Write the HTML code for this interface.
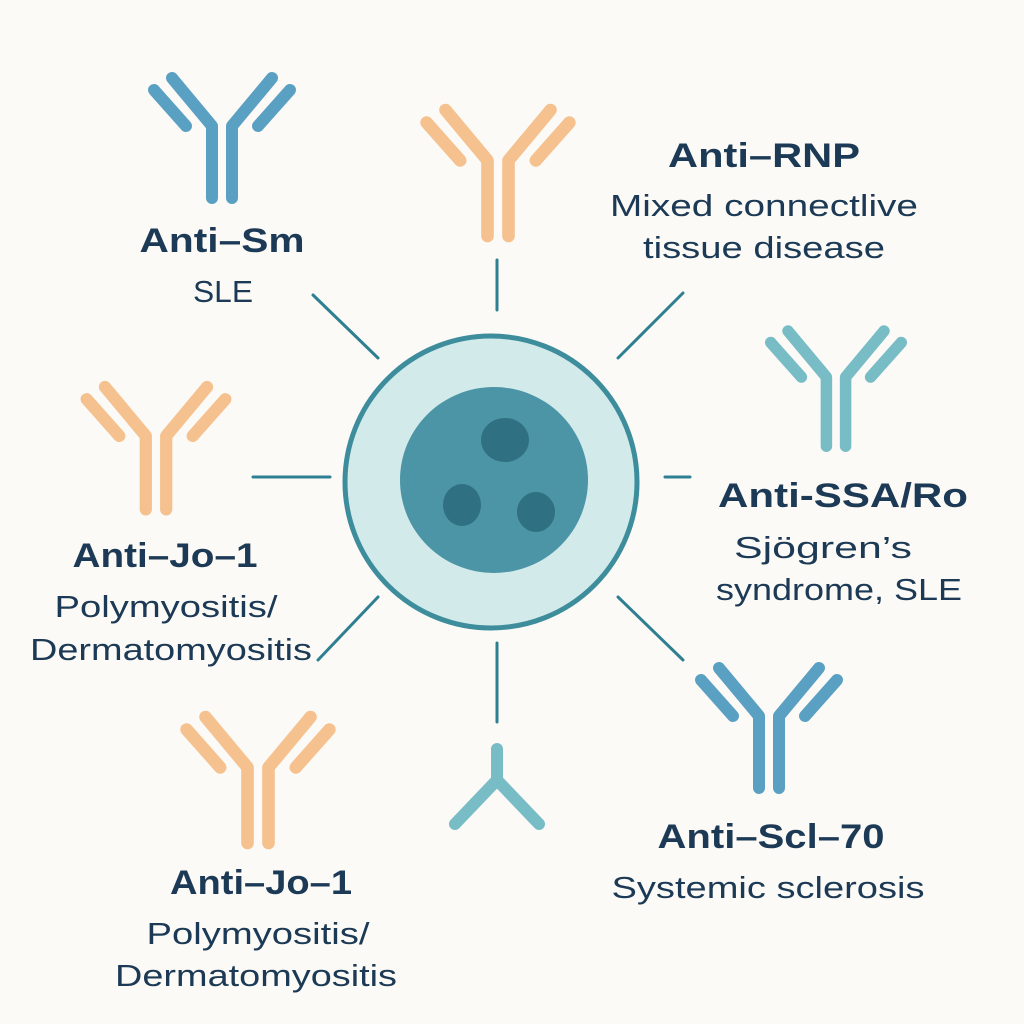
<!DOCTYPE html>
<html><head><meta charset="utf-8"><style>
html,body{margin:0;padding:0;background:#fcfaf6;}
svg{display:block}
text{font-family:"Liberation Sans",sans-serif;fill:#1c3a55;text-anchor:middle}
.b{font-weight:bold;font-size:34px}
.r{font-size:31px}
</style></head><body>
<svg width="1024" height="1024" viewBox="0 0 1024 1024">
<defs>
<g id="ab" fill="none" stroke-linecap="round" stroke-linejoin="round" stroke-width="12">
<path d="M-50 0 L-10 48 L-10 120 M50 0 L10 48 L10 120 M-68 12 L-36 48 M68 12 L36 48"/>
</g>
</defs>
<rect width="1024" height="1024" fill="#fcfaf6"/>
<g stroke="#5aa0c3"><use href="#ab" transform="translate(222,78)"/></g>
<g stroke="#f5c18f"><use href="#ab" transform="translate(498,110) scale(1.05)"/></g>
<g stroke="#f5c18f"><use href="#ab" transform="translate(156,387) scale(1.02)"/></g>
<g stroke="#78bdc6"><use href="#ab" transform="translate(836,331) scale(0.96)"/></g>
<g stroke="#5aa0c3"><use href="#ab" transform="translate(769,668)"/></g>
<g stroke="#f5c18f"><use href="#ab" transform="translate(258,717) scale(1.05)"/></g>
<path d="M497 749 L497 780 L455 824 M497 780 L539 824" fill="none" stroke="#78bdc6" stroke-width="12" stroke-linecap="round" stroke-linejoin="round"/>
<g stroke="#2e7f91" stroke-width="3" stroke-linecap="round">
<line x1="313" y1="295" x2="378" y2="358"/>
<line x1="497" y1="260" x2="497" y2="310"/>
<line x1="618" y1="358" x2="683" y2="293"/>
<line x1="253" y1="477" x2="330" y2="477"/>
<line x1="665" y1="477" x2="690" y2="477"/>
<line x1="378" y1="597" x2="318" y2="660"/>
<line x1="497" y1="643" x2="497" y2="722"/>
<line x1="618" y1="597" x2="683" y2="660"/>
</g>
<circle cx="491" cy="482" r="146" fill="#d3eaea" stroke="#3d8d9c" stroke-width="5"/>
<ellipse cx="494" cy="480" rx="94" ry="93" fill="#4b95a6"/>
<ellipse cx="505" cy="440" rx="24" ry="22" fill="#2f7182"/>
<ellipse cx="462" cy="505" rx="19" ry="21" fill="#2f7182"/>
<ellipse cx="536" cy="512" rx="19" ry="20" fill="#2f7182"/>
<text class="b" x="222" y="252" textLength="165" lengthAdjust="spacingAndGlyphs">Anti–Sm</text>
<text class="r" x="223" y="302" textLength="60" lengthAdjust="spacingAndGlyphs">SLE</text>
<text class="b" x="764" y="167" textLength="192" lengthAdjust="spacingAndGlyphs">Anti–RNP</text>
<text class="r" x="764" y="216" textLength="308" lengthAdjust="spacingAndGlyphs">Mixed connectlive</text>
<text class="r" x="764" y="258" textLength="242" lengthAdjust="spacingAndGlyphs">tissue disease</text>
<text class="b" x="843" y="507" textLength="250" lengthAdjust="spacingAndGlyphs">Anti-SSA/Ro</text>
<text class="r" x="823" y="558" textLength="178" lengthAdjust="spacingAndGlyphs">Sjögren’s</text>
<text class="r" x="839" y="600" textLength="246" lengthAdjust="spacingAndGlyphs">syndrome, SLE</text>
<text class="b" x="165" y="567" textLength="185" lengthAdjust="spacingAndGlyphs">Anti–Jo–1</text>
<text class="r" x="166" y="617" textLength="223" lengthAdjust="spacingAndGlyphs">Polymyositis/</text>
<text class="r" x="171" y="660" textLength="282" lengthAdjust="spacingAndGlyphs">Dermatomyositis</text>
<text class="b" x="771" y="848" textLength="227" lengthAdjust="spacingAndGlyphs">Anti–Scl–70</text>
<text class="r" x="768" y="898" textLength="313" lengthAdjust="spacingAndGlyphs">Systemic sclerosis</text>
<text class="b" x="261" y="894" textLength="182" lengthAdjust="spacingAndGlyphs">Anti–Jo–1</text>
<text class="r" x="258" y="944" textLength="223" lengthAdjust="spacingAndGlyphs">Polymyositis/</text>
<text class="r" x="256" y="986" textLength="282" lengthAdjust="spacingAndGlyphs">Dermatomyositis</text>
</svg>
</body></html>
